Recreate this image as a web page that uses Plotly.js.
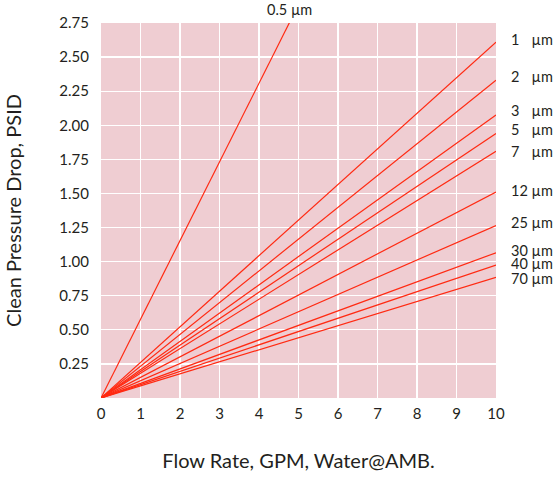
<!DOCTYPE html>
<html><head><meta charset="utf-8">
<script src="https://cdn.plot.ly/plotly-3.0.1.min.js"></script>
<style>body{margin:0;background:#fff}</style>
</head><body><div id="chart" style="width:554px;height:477px"></div>
<script>
// Data
const seriesNames = ["0.5 µm","1 µm","2 µm","3 µm","5 µm","7 µm","12 µm","25 µm","30 µm","40 µm","70 µm"];
const flowX = [0, 10];
const dropAt10 = [5.77, 2.61, 2.33, 2.075, 1.94, 1.81, 1.51, 1.265, 1.065, 0.975, 0.885];
const labelText = ["0.5 µm","1\u2007 µm","2\u2007 µm","3\u2007 µm","5\u2007 µm","7\u2007 µm","12 µm","25 µm","30 µm","40 µm","70 µm"];
const labelY = [null, 2.63, 2.36, 2.11, 1.97, 1.81, 1.52, 1.29, 1.08, 0.985, 0.875];
const yTicks = [0.25,0.5,0.75,1.0,1.25,1.5,1.75,2.0,2.25,2.5,2.75];
const yTickText = ["0.25","0.50","0.75","1.00","1.25","1.50","1.75","2.00","2.25","2.50","2.75"];
const xTicks = [0,1,2,3,4,5,6,7,8,9,10];

const FONT = "Lato, 'Open Sans', sans-serif";
const traces = seriesNames.map((n,i)=>({
  x: flowX, y: [0, dropAt10[i]], type:'scatter', mode:'lines', name:n,
  line:{color:'#ff2a12', width:1.2}, hoverinfo:'skip', cliponaxis:true
}));

const annotations = [];
labelText.forEach((t,i)=>{
  if (i===0) {
    annotations.push({x:(2.75/dropAt10[0])*10, y:2.75, xref:'x', yref:'y', text:t, showarrow:false,
      xanchor:'center', yanchor:'bottom', yshift:3, font:{family:FONT,size:14.5,color:'#231f20'}});
  } else {
    annotations.push({x:10, y:labelY[i], xref:'x', yref:'y', text:t, showarrow:false,
      xanchor:'left', yanchor:'middle', xshift:13, font:{family:FONT,size:14.5,color:'#231f20'}});
  }
});

const layout = {
  width:554, height:477,
  margin:{l:101, r:58, t:23, b:79},
  paper_bgcolor:'#ffffff', plot_bgcolor:'#efcdd2',
  showlegend:false,
  font:{family:FONT, size:15, color:'#231f20'},
  xaxis:{range:[0,10], tickvals:xTicks, showgrid:true, gridcolor:'#ffffff', gridwidth:1.2,
    zeroline:false, showline:false, ticks:'', ticklabelstandoff:5,
    tickfont:{family:FONT,size:15,color:'#231f20'},
    title:{text:'Flow Rate, GPM, Water@AMB.', font:{family:FONT,size:20,color:'#231f20'}, standoff:32}},
  yaxis:{range:[0,2.75], tickvals:yTicks, ticktext:yTickText, showgrid:true, gridcolor:'#ffffff', gridwidth:1.2,
    zeroline:false, showline:false, ticks:'', ticklabelstandoff:11,
    tickfont:{family:FONT,size:15,color:'#231f20'},
    title:{text:'Clean Pressure Drop, PSID', font:{family:FONT,size:20,color:'#231f20'}, standoff:32}},
  annotations: annotations
};
Plotly.newPlot('chart', traces, layout, {staticPlot:true, displayModeBar:false});
</script></body></html>
